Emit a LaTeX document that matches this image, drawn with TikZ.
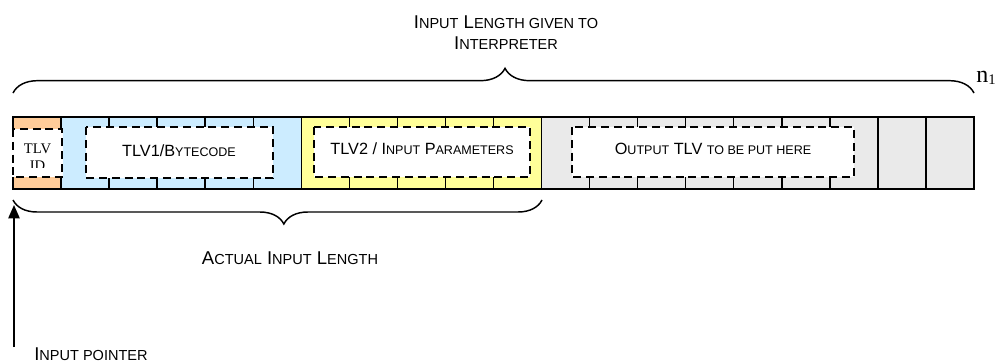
\documentclass[tikz,border=0pt]{standalone}
\usepackage{fontspec}
\setmainfont{Liberation Sans}
\newfontfamily\tnr{Liberation Serif}
\usetikzlibrary{decorations.pathreplacing,arrows.meta}
\definecolor{cOrange}{HTML}{FFCC99}
\definecolor{cBlue}{HTML}{CCECFF}
\definecolor{cYellow}{HTML}{FFFF99}
\definecolor{cGray}{HTML}{EAEAEA}
\newcommand\Lsc[1]{{\fontsize{10.9}{13}\selectfont #1}}
\newcommand\Msc[1]{{\fontsize{9.4}{13}\selectfont #1}}
\begin{document}
\begin{tikzpicture}[x=0.75pt,y=-0.75pt,
  cellline/.style={line width=1.1pt},
  stripborder/.style={line width=1.4pt},
  dashbox/.style={line width=1.3pt, dash pattern=on 6pt off 3.6pt},
  boxtext/.style={font=\fontsize{12.2}{14}\selectfont, inner sep=0pt},
  bigtext/.style={font=\fontsize{13.9}{15.75}\selectfont, inner sep=0pt, align=center},
  bracestyle/.style={line width=1.1pt, decorate},
  ptr/.style={line width=1.1pt, -{Triangle[length=10pt,width=8.5pt]}}]
\useasboundingbox (0,0) rectangle (1000,364);

% coloured segments
\fill[cOrange] (13,117) rectangle (62,189);
\fill[cBlue]   (62,117) rectangle (302,189);
\fill[cYellow] (302,117) rectangle (542,189);
\fill[cGray]   (542,117) rectangle (974,189);

% cell boundaries
\foreach \i in {1,...,19} {
  \draw[cellline] ({13+\i*48.05},117) -- ({13+\i*48.05},189);
}
% strip border
\draw[stripborder] (13,117) rectangle (974,189);

% white dashed boxes
\fill[white] (11.5,129) rectangle (63.3,177);
\draw[dashbox] (13,129) rectangle (62,177);
\fill[white] (86,127) rectangle (273,178);
\draw[dashbox] (86,127) rectangle (273,178);
\fill[white] (314,127) rectangle (530,177);
\draw[dashbox] (314,127) rectangle (530,177);
\fill[white] (572,127) rectangle (854,177);
\draw[dashbox] (572,127) rectangle (854,177);

% TLV ID (clipped text)
\begin{scope}
  \clip (13,129) rectangle (62,167.5);
  \node[inner sep=0pt, align=center, font=\tnr\fontsize{11}{12.4}\selectfont] (tlvid) at (37.5,157) {TLV\\ID};
\end{scope}

% box labels
\node[boxtext] (bytecode) at (179,151) {TLV1/B\Msc{YTECODE}};
\node[boxtext] (params) at (422,149) {TLV2 / I\Msc{NPUT} P\Msc{ARAMETERS}};
\node[boxtext] (output) at (713,149) {O\Msc{UTPUT} TLV \Msc{TO BE PUT HERE}};

% top brace and title
\draw[bracestyle, decoration={brace, amplitude=18.5pt, aspect=0.512}] (13,93) -- (974,93);
\node[bigtext] (title) at (506,32.5) {I\Lsc{NPUT} L\Lsc{ENGTH GIVEN TO}\\I\Lsc{NTERPRETER}};
\node[anchor=base west, inner sep=0pt] (n1) at (976,82)
  {\tnr\fontsize{18}{20}\selectfont n\raisebox{-1.5pt}{\fontsize{11}{12}\selectfont 1}};

% bottom brace and label
\draw[bracestyle, decoration={brace, mirror, amplitude=18pt, aspect=0.512}] (13,200) -- (542,200);
\node[bigtext] (actual) at (290,258) {A\Lsc{CTUAL} I\Lsc{NPUT} L\Lsc{ENGTH}};

% input pointer
\coordinate (ptrbase) at (14,347);
\coordinate (ptrtip) at (14,205);
\draw[ptr] (ptrbase) -- (ptrtip);
\node[bigtext, anchor=west] (pointer) at (34,354) {I\Lsc{NPUT POINTER}};
\end{tikzpicture}
\end{document}
